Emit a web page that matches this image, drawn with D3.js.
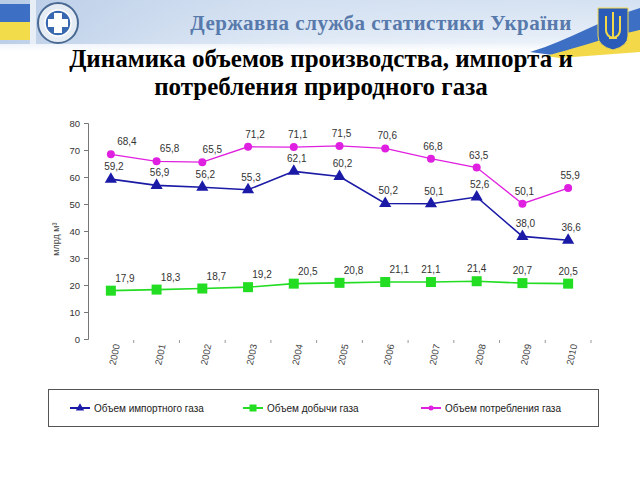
<!DOCTYPE html>
<html><head><meta charset="utf-8">
<script src="https://cdn.jsdelivr.net/npm/d3@7"></script>
<style>body{margin:0;background:#fff}svg{display:block}</style>
</head><body>
<script>
const years = ["2000","2001","2002","2003","2004","2005","2006","2007","2008","2009","2010"];
const importGas = [59.2,56.9,56.2,55.3,62.1,60.2,50.2,50.1,52.6,38.0,36.6];
const productionGas = [17.9,18.3,18.7,19.2,20.5,20.8,21.1,21.1,21.4,20.7,20.5];
const consumptionGas = [68.4,65.8,65.5,71.2,71.1,71.5,70.6,66.8,63.5,50.1,55.9];
const yTicks = [0,10,20,30,40,50,60,70,80];
const seriesNames = ["Объем импортного газа","Объем добычи газа","Объем потребления газа"];

(function(){
const W=640,H=480;
const svg=d3.select("body").append("svg").attr("width",W).attr("height",H);
const defs=svg.append("defs");
const g1=defs.append("linearGradient").attr("id","hdr").attr("x1",0).attr("y1",0).attr("x2",0).attr("y2",1);
g1.append("stop").attr("offset","0%").attr("stop-color","#c9d9ee");
g1.append("stop").attr("offset","70%").attr("stop-color","#e3ecf7");
g1.append("stop").attr("offset","100%").attr("stop-color","#ffffff");
const g2=defs.append("linearGradient").attr("id","hdr2").attr("x1",0).attr("y1",0).attr("x2",1).attr("y2",0);
g2.append("stop").attr("offset","0%").attr("stop-color","#b7cbe6").attr("stop-opacity",0.9);
g2.append("stop").attr("offset","45%").attr("stop-color","#d8e4f3").attr("stop-opacity",0.6);
g2.append("stop").attr("offset","100%").attr("stop-color","#eef3fa").attr("stop-opacity",0.3);
// header
svg.append("rect").attr("x",0).attr("y",0).attr("width",W).attr("height",52).attr("fill","url(#hdr)");
svg.append("rect").attr("x",0).attr("y",0).attr("width",W).attr("height",44).attr("fill","url(#hdr2)");
// left flag
svg.append("rect").attr("x",0).attr("y",4).attr("width",30).attr("height",18).attr("fill","#3d6fc4");
svg.append("rect").attr("x",0).attr("y",22).attr("width",30).attr("height",18).attr("fill","#f3dc4a");
svg.append("rect").attr("x",30).attr("y",0).attr("width",6).attr("height",44).attr("fill","#e8eef6");
// emblem circle
svg.append("circle").attr("cx",58).attr("cy",23).attr("r",20).attr("fill","#e6ecf3").attr("stroke","#4a6a94").attr("stroke-width",2);
svg.append("circle").attr("cx",58).attr("cy",23).attr("r",13).attr("fill","#3768b0").attr("stroke","#fff").attr("stroke-width",1.5);
svg.append("path").attr("d","M54,13h8v6h6v8h-6v6h-8v-6h-6v-8h6z").attr("fill","#fff");
// right flag wave
svg.append("path").attr("d","M530,52 C570,40 600,20 640,8 L640,30 C610,40 580,52 560,56 Z").attr("fill","#3d6fc4");
svg.append("path").attr("d","M545,56 C585,46 610,36 640,30 L640,52 L560,58 Z").attr("fill","#f3d94a");
// trident shield
svg.append("path").attr("d","M598,8 h30 v28 q0,10 -15,14 q-15,-4 -15,-14 z").attr("fill","#2a5bb8").attr("stroke","#f3d94a").attr("stroke-width",1);
svg.append("path").attr("d","M613,12 v26 M606,16 v14 q0,6 7,8 q7,-2 7,-8 v-14 M609,38 h8").attr("fill","none").attr("stroke","#f3d94a").attr("stroke-width",2);
svg.append("text").attr("x",381).attr("y",30).attr("text-anchor","middle")
  .attr("font-family","Liberation Serif").attr("font-weight","bold").attr("font-size",21)
  .attr("fill","#5779ab").attr("letter-spacing",0.5).text("Державна служба статистики України");

// title
const title=svg.append("text").attr("text-anchor","middle").attr("font-family","Liberation Serif")
  .attr("font-weight","bold").attr("font-size",25).attr("fill","#000");
title.append("tspan").attr("x",321).attr("y",67).text("Динамика объемов производства, импорта и");
title.append("tspan").attr("x",321).attr("y",95).text("потребления природного газа");

// chart
const pL=88,pR=591,pT=123,pB=339;
const x=d3.scaleBand().domain(years).range([pL,pR]);
const y=d3.scaleLinear().domain([0,80]).range([pB,pT]);
const font="Liberation Sans";

const ya=svg.append("g").attr("transform",`translate(${pL},0)`)
  .call(d3.axisLeft(y).tickValues(yTicks).tickSize(4).tickPadding(4).tickFormat(d3.format("d")));
ya.select(".domain").attr("stroke","#777");
ya.selectAll(".tick line").attr("stroke","#777");
ya.selectAll("text").attr("font-family",font).attr("font-size",9.5).attr("fill","#333");

const xa=svg.append("g").attr("transform",`translate(0,${pB})`)
  .call(d3.axisBottom(x).tickSize(0).tickPadding(6));
xa.select(".domain").remove();
xa.selectAll(".tick text").attr("font-family",font).attr("font-size",9.5).attr("fill","#444")
  .attr("text-anchor","end").attr("dy","0.35em").attr("dx",0)
  .attr("transform","translate(0,4) rotate(-78)");
// boundary ticks
svg.append("g").selectAll("line").data(years).join("line")
  .attr("x1",d=>x(d)+x.bandwidth()).attr("x2",d=>x(d)+x.bandwidth())
  .attr("y1",pB+1).attr("y2",pB+4).attr("stroke","#999");

svg.append("text").attr("transform",`translate(59,${y(37)}) rotate(-90)`).attr("text-anchor","middle")
  .attr("font-family",font).attr("font-size",9).attr("fill","#444").text("млрд м³");

const cx=(d,i)=>x(years[i])+x.bandwidth()/2;
const line=d3.line().x((d,i)=>cx(d,i)).y(d=>y(d));
const series=[
  {name:seriesNames[0],vals:importGas,color:"#1a1aa6",w:1.6,marker:"tri",dx:()=>3},
  {name:seriesNames[1],vals:productionGas,color:"#22dd22",w:1.6,marker:"sq",dx:(i)=>i<7?14:0},
  {name:seriesNames[2],vals:consumptionGas,color:"#e020e0",w:1.3,marker:"circ",dx:(i)=>i<5?16-i*3:2}
];
function marker(sel,m,color){
  if(m==="tri") sel.append("path").attr("d",d3.symbol(d3.symbolTriangle,64)()).attr("fill",color);
  else if(m==="sq") sel.append("rect").attr("x",-5).attr("y",-5).attr("width",10).attr("height",10).attr("fill",color);
  else sel.append("circle").attr("r",4).attr("fill",color);
}
series.forEach(s=>{
  svg.append("path").attr("d",line(s.vals)).attr("fill","none").attr("stroke",s.color).attr("stroke-width",s.w);
  s.vals.forEach((v,i)=>{
    const gm=svg.append("g").attr("transform",`translate(${cx(v,i)},${y(v)})`);
    marker(gm,s.marker,s.color);
    svg.append("text").attr("x",cx(v,i)+s.dx(i)).attr("y",y(v)-9).attr("text-anchor","middle")
      .attr("font-family",font).attr("font-size",10).attr("fill","#333")
      .text(d3.format(".1f")(v).replace(".",","));
  });
});

// legend
svg.append("rect").attr("x",48.5).attr("y",389.5).attr("width",550).attr("height",37)
  .attr("fill","#fff").attr("stroke","#555").attr("stroke-width",1);
const lx=[70,243,421];
series.forEach((s,k)=>{
  const gl=svg.append("g").attr("transform",`translate(${lx[k]},408)`);
  gl.append("line").attr("x1",0).attr("x2",20).attr("stroke",s.color).attr("stroke-width",2);
  const m=gl.append("g").attr("transform","translate(10,0)");
  if(s.marker==="tri") m.append("path").attr("d",d3.symbol(d3.symbolTriangle,30)()).attr("fill",s.color);
  else if(s.marker==="sq") m.append("rect").attr("x",-3.5).attr("y",-3.5).attr("width",7).attr("height",7).attr("fill",s.color);
  else m.append("circle").attr("r",2.5).attr("fill",s.color);
  gl.append("text").attr("x",24).attr("y",3.5).attr("font-family",font).attr("font-size",10)
    .attr("fill","#222").text(s.name);
});
})();
</script>
</body></html>
